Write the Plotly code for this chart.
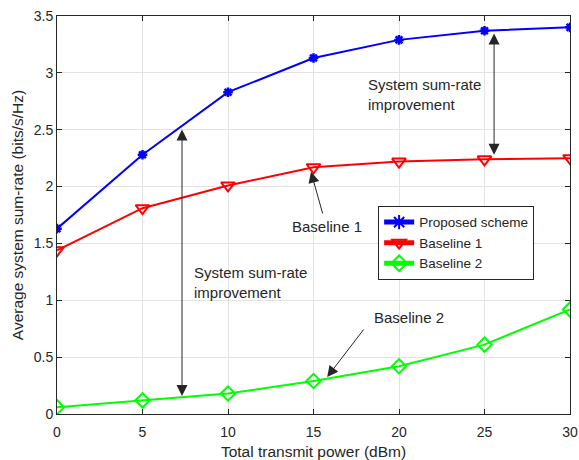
import plotly.graph_objects as go

power_dbm = [0, 5, 10, 15, 20, 25, 30]
proposed = [1.63, 2.28, 2.83, 3.13, 3.29, 3.37, 3.40]
baseline1 = [1.44, 1.81, 2.01, 2.17, 2.22, 2.24, 2.25]
baseline2 = [0.06, 0.12, 0.18, 0.29, 0.42, 0.61, 0.92]
x_ticks = [0, 5, 10, 15, 20, 25, 30]
y_ticks = [0, 0.5, 1, 1.5, 2, 2.5, 3, 3.5]
y_tick_labels = ["0", "0.5", "1", "1.5", "2", "2.5", "3", "3.5"]

FONT = "Liberation Sans, Arial, Helvetica, sans-serif"
TXT = "#262626"

fig = go.Figure()
fig.add_trace(go.Scatter(x=power_dbm, y=proposed, mode="lines+markers", name="Proposed scheme",
                         line=dict(color="#0000ff", width=2),
                         marker=dict(symbol="asterisk-open", size=8, color="#0000ff",
                                     line=dict(color="#0000ff", width=2.5))))
fig.add_trace(go.Scatter(x=power_dbm, y=baseline1, mode="lines+markers", name="Baseline 1",
                         line=dict(color="#ff0000", width=2),
                         marker=dict(symbol="triangle-down-open", size=12, color="#ff0000",
                                     line=dict(color="#ff0000", width=2))))
fig.add_trace(go.Scatter(x=power_dbm, y=baseline2, mode="lines+markers", name="Baseline 2",
                         line=dict(color="#00ff00", width=2),
                         marker=dict(symbol="diamond-open", size=11, color="#00ff00",
                                     line=dict(color="#00ff00", width=2))))

ann = []
# double arrows
for (xx, y0, y1) in [(7.31, 2.515, 0.158), (25.56, 3.36, 2.28)]:
    ann.append(dict(x=xx, y=y1, ax=xx, ay=y0, xref="x", yref="y", axref="x", ayref="y",
                    text="", showarrow=True, arrowhead=2, arrowside="end+start",
                    arrowsize=2.2, arrowwidth=1, arrowcolor=TXT))
ann.append(dict(x=18.07, y=2.806, xref="x", yref="y", text="System sum-rate<br>improvement",
                showarrow=False, xanchor="left", yanchor="middle", align="left",
                font=dict(family=FONT, size=15, color=TXT)))
ann.append(dict(x=7.9, y=1.16, xref="x", yref="y", text="System sum-rate<br>improvement",
                showarrow=False, xanchor="left", yanchor="middle", align="left",
                font=dict(family=FONT, size=15, color=TXT)))
# Baseline 1 label + arrow
ann.append(dict(x=14.85, y=2.13, ax=15.56, ay=1.75, xref="x", yref="y", axref="x", ayref="y",
                text="", showarrow=True, arrowhead=2, arrowsize=2.2, arrowwidth=1, arrowcolor=TXT))
ann.append(dict(x=13.6, y=1.645, xref="x", yref="y", text="Baseline 1", showarrow=False,
                xanchor="left", yanchor="middle", font=dict(family=FONT, size=15, color=TXT)))
# Baseline 2 label + arrow
ann.append(dict(x=15.8, y=0.325, ax=18.0, ay=0.756, xref="x", yref="y", axref="x", ayref="y",
                text="", showarrow=True, arrowhead=2, arrowsize=2.2, arrowwidth=1, arrowcolor=TXT))
ann.append(dict(x=18.42, y=0.853, xref="x", yref="y", text="Baseline 2", showarrow=False,
                xanchor="left", yanchor="middle", font=dict(family=FONT, size=15, color=TXT)))

axis_common = dict(showline=True, linecolor="#262626", linewidth=1, mirror="ticks",
                   ticks="inside", ticklen=5, tickcolor="#262626", automargin=False,
                   ticklabeloverflow="allow",
                   showgrid=True, gridcolor="#e3e3e3", gridwidth=1, zeroline=False,
                   tickfont=dict(family=FONT, size=14, color=TXT))

fig.update_layout(
    width=579, height=460,
    margin=dict(l=57, r=9, t=16, b=46),
    paper_bgcolor="white", plot_bgcolor="white",
    font=dict(family=FONT, size=14, color=TXT),
    xaxis=dict(range=[0, 30], tickvals=x_ticks, ticktext=[str(v) for v in x_ticks],
               ticklabelstandoff=5,
               title=dict(text="Total transmit power (dBm)", standoff=8,
                          font=dict(family=FONT, size=15.5, color=TXT)),
               **axis_common),
    yaxis=dict(range=[0, 3.5], tickvals=y_ticks, ticktext=y_tick_labels,
               title=dict(text="Average system sum-rate (bits/s/Hz)", standoff=6,
                          font=dict(family=FONT, size=15.5, color=TXT)),
               **axis_common),
    legend=dict(x=0.626, y=0.523, xanchor="left", yanchor="top",
                bgcolor="white", bordercolor="#262626", borderwidth=1,
                font=dict(family=FONT, size=13.5, color=TXT),
                tracegroupgap=0, itemsizing="constant"),
    annotations=ann,
    showlegend=True,
)

fig.write_html("out.html", config={"displayModeBar": False},
               post_script="document.body.style.margin='0';document.body.style.overflow='hidden';")
